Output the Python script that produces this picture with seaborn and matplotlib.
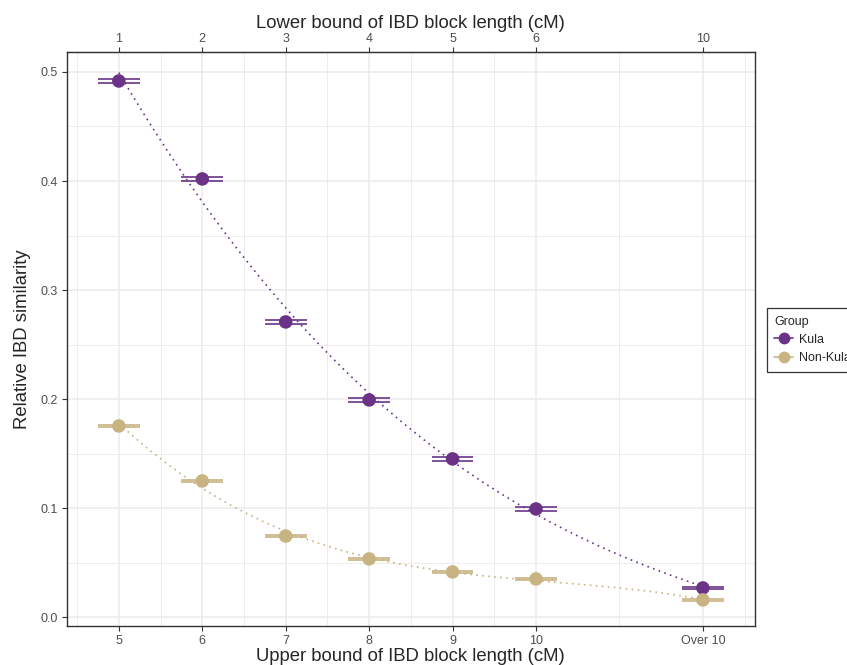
import numpy as np
import pandas as pd
import matplotlib
matplotlib.use("Agg")
import matplotlib.pyplot as plt
from matplotlib.lines import Line2D
import seaborn as sns

# data
positions = [1, 2, 3, 4, 5, 6, 8]
upper_labels = ["5", "6", "7", "8", "9", "10", "Over 10"]
lower_labels = ["1", "2", "3", "4", "5", "6", "10"]
kula = [0.4917, 0.4019, 0.2708, 0.1993, 0.1452, 0.0993, 0.0269]
kula_se = [0.0018, 0.0020, 0.0018, 0.0018, 0.0020, 0.0018, 0.0010]
nonkula = [0.1754, 0.1250, 0.0745, 0.0535, 0.0416, 0.0352, 0.0159]
nonkula_se = [0.0007, 0.0007, 0.0007, 0.0006, 0.0006, 0.0006, 0.0006]

df = pd.DataFrame({
    "x": positions * 2,
    "y": kula + nonkula,
    "se": kula_se + nonkula_se,
    "Group": ["Kula"] * 7 + ["Non-Kula"] * 7,
})
colors = {"Kula": "#6B3388", "Non-Kula": "#C8B383"}

sns.set_style("white")
plt.rcParams["font.family"] = ["Liberation Sans", "DejaVu Sans"]

fig = plt.figure(figsize=(8.47, 6.65), dpi=100)
ax = fig.add_axes([66.7 / 847, 1 - 626 / 665, (755 - 66.7) / 847, (626 - 52.3) / 665])

# grid like ggplot theme_bw
ax.set_axisbelow(True)
ax.set_xticks(positions)
ax.set_xticks([0.5, 1.5, 2.5, 3.5, 4.5, 5.5, 7, 8.5], minor=True)
ax.set_yticks([0.0, 0.1, 0.2, 0.3, 0.4, 0.5])
ax.set_yticks([0.05, 0.15, 0.25, 0.35, 0.45], minor=True)
ax.grid(which="major", color="#EBEBEB", lw=1.1)
ax.grid(which="minor", color="#EDEDED", lw=0.7)

for g, sub in df.groupby("Group"):
    c = colors[g]
    sns.regplot(data=sub, x="x", y="y", order=3, scatter=False, ci=None, ax=ax,
                line_kws=dict(color=c, lw=1.2, linestyle=(0, (1, 2.6))))
    ax.hlines(sub["y"] + sub["se"], sub["x"] - 0.25, sub["x"] + 0.25, color=c, lw=1.2)
    ax.hlines(sub["y"] - sub["se"], sub["x"] - 0.25, sub["x"] + 0.25, color=c, lw=1.2)

sns.scatterplot(data=df, x="x", y="y", hue="Group", palette=colors, s=95,
                edgecolor="none", legend=False, ax=ax, zorder=5)

ax.set_xlim(0.375, 8.625)
ax.set_ylim(-0.008, 0.518)
ax.set_xticklabels(upper_labels)
ax.set_yticklabels(["0.0", "0.1", "0.2", "0.3", "0.4", "0.5"])
ax.set_xlabel("Upper bound of IBD block length (cM)", fontsize=13.3, labelpad=1)
ax.set_ylabel("Relative IBD similarity", fontsize=13.3, labelpad=7)
ax.tick_params(which="major", length=3.5, width=0.8, color="#333333",
               labelsize=9, labelcolor="#4D4D4D", bottom=True, left=True, pad=3)
ax.tick_params(which="minor", length=0)
for s in ax.spines.values():
    s.set_color("#333333")
    s.set_linewidth(1.0)

top = ax.secondary_xaxis("top")
top.set_xticks(positions)
top.set_xticklabels(lower_labels)
top.set_xlabel("Lower bound of IBD block length (cM)", fontsize=13.3, labelpad=3)
top.tick_params(length=3.5, width=0.8, color="#333333", labelsize=9,
                labelcolor="#4D4D4D", pad=2)

handles = [Line2D([0], [0], color=colors[g], lw=1.2, marker="o", markersize=8.5,
                  markeredgewidth=0) for g in ["Kula", "Non-Kula"]]
leg = fig.legend(handles, ["Kula", "Non-Kula"], title="Group", loc="upper left",
                 bbox_to_anchor=(766.7 / 847, 1 - 308 / 665), fontsize=9,
                 title_fontsize=9, frameon=True, fancybox=False,
                 handlelength=1.5, handletextpad=0.45, borderpad=0.6,
                 borderaxespad=0, labelspacing=0.5, alignment="left")
leg.get_frame().set_edgecolor("black")
leg.get_frame().set_linewidth(0.9)

fig.savefig("out.png", dpi=100)
